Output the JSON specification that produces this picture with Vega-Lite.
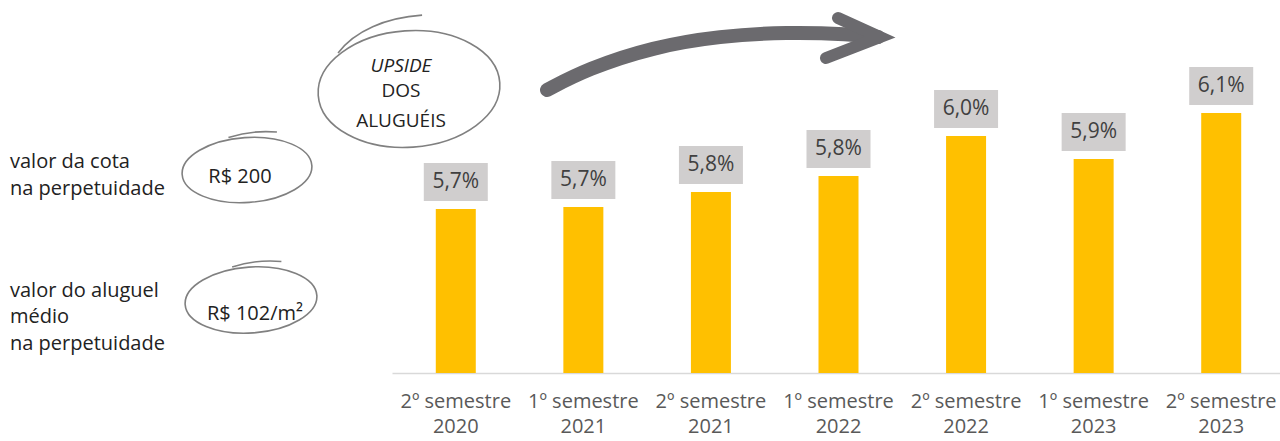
{
  "$schema": "https://vega.github.io/schema/vega-lite/v6.json",
  "width": 1280,
  "height": 373,
  "padding": {"left": 0, "top": 0, "right": 0, "bottom": 68},
  "autosize": {"type": "none"},
  "background": "white",
  "config": {"view": {"stroke": null}, "font": "Open Sans", "text": {"font": "Open Sans"}},
  "layer": [
    {
      "data": {"values": [
        {"periodo": "2º semestre 2020", "valor": 5.695, "rotulo": "5,7%"},
        {"periodo": "1º semestre 2021", "valor": 5.703, "rotulo": "5,7%"},
        {"periodo": "2º semestre 2021", "valor": 5.767, "rotulo": "5,8%"},
        {"periodo": "1º semestre 2022", "valor": 5.834, "rotulo": "5,8%"},
        {"periodo": "2º semestre 2022", "valor": 6.004, "rotulo": "6,0%"},
        {"periodo": "1º semestre 2023", "valor": 5.906, "rotulo": "5,9%"},
        {"periodo": "2º semestre 2023", "valor": 6.101, "rotulo": "6,1%"}
      ]},
      "encoding": {
        "x": {
          "field": "periodo", "type": "nominal", "sort": null,
          "scale": {"range": [392, 1285], "paddingInner": 0, "paddingOuter": 0},
          "axis": {
            "title": null, "ticks": false, "domainColor": "#d9d9d9", "domainWidth": 1.5,
            "labelExpr": "[slice(datum.label,0,11), slice(datum.label,12)]",
            "labelFontSize": 20, "labelColor": "#595959", "labelFont": "Open Sans",
            "labelPadding": 18, "labelLineHeight": 25, "labelAngle": 0
          }
        },
        "y": {"field": "valor", "type": "quantitative", "scale": {"domain": [5, 6.58], "zero": false, "nice": false}, "axis": null}
      },
      "layer": [
        {"mark": {"type": "bar", "color": "#ffc000", "size": 40}, "encoding": {"y2": {"datum": 5}}},
        {"mark": {"type": "point", "shape": "M-1,-0.594L1,-0.594L1,0.594L-1,0.594Z", "size": 4096, "filled": true, "color": "#d0cece", "opacity": 1, "yOffset": -27}},
        {"mark": {"type": "text", "fontSize": 21, "color": "#404040", "yOffset": -27, "baseline": "middle"}, "encoding": {"text": {"field": "rotulo"}}}
      ]
    },
    {
      "encoding": {
        "x": {"field": "x", "type": "quantitative", "scale": {"domain": [0, 1280], "nice": false, "zero": false}, "axis": null},
        "y": {"field": "y", "type": "quantitative", "scale": {"domain": [0, 373], "nice": false, "zero": false, "reverse": true}, "axis": null}
      },
      "layer": [
        {
          "data": {"values": [{"x": 247, "y": 170}]},
          "mark": {"type": "point", "shape": "M1,0C1,0.276 0.552,0.5 0,0.5C-0.552,0.5 -1,0.276 -1,0C-1,-0.276 -0.552,-0.5 0,-0.5C0.552,-0.5 1,-0.276 1,0M-0.25,-0.52C0,-0.58 0.25,-0.59 0.5,-0.55", "size": 16900, "filled": false, "stroke": "#808080", "strokeWidth": 1.6, "opacity": 1, "angle": -4}
        },
        {
          "data": {"values": [{"x": 251, "y": 300}]},
          "mark": {"type": "point", "shape": "M1,0C1,0.276 0.552,0.5 0,0.5C-0.552,0.5 -1,0.276 -1,0C-1,-0.276 -0.552,-0.5 0,-0.5C0.552,-0.5 1,-0.276 1,0M-0.25,-0.52C0,-0.58 0.25,-0.59 0.5,-0.55", "size": 17424, "filled": false, "stroke": "#808080", "strokeWidth": 1.6, "opacity": 1, "angle": -4}
        },
        {
          "data": {"values": [{"x": 409, "y": 89}]},
          "mark": {"type": "point", "shape": "M1,0C1,0.353 0.552,0.64 0,0.64C-0.552,0.64 -1,0.353 -1,0C-1,-0.353 -0.552,-0.64 0,-0.64C0.552,-0.64 1,-0.353 1,0M-0.75,-0.45C-0.55,-0.68 -0.2,-0.8 0.2,-0.8", "size": 33124, "filled": false, "stroke": "#808080", "strokeWidth": 1.6, "opacity": 1, "angle": -4}
        },
        {
          "data": {"values": [
            {"x": 547, "y": 90}, {"x": 587, "y": 69}, {"x": 653, "y": 47}, {"x": 720, "y": 36},
            {"x": 787, "y": 32}, {"x": 850, "y": 34}, {"x": 878, "y": 37}
          ]},
          "mark": {"type": "line", "interpolate": "basis", "color": "#6b6a6e", "strokeWidth": 14, "strokeCap": "round"}
        },
        {
          "data": {"values": [
            {"x": 838, "y": 18, "ordem": 1}, {"x": 880, "y": 37, "ordem": 2}, {"x": 826, "y": 58, "ordem": 3}
          ]},
          "mark": {"type": "line", "interpolate": "linear", "color": "#6b6a6e", "strokeWidth": 12, "strokeCap": "round", "strokeJoin": "miter"},
          "encoding": {"order": {"field": "ordem", "type": "quantitative"}}
        },
        {
          "data": {"values": [
            {"x": 10, "y": 168, "t": "valor da cota"},
            {"x": 10, "y": 195, "t": "na perpetuidade"},
            {"x": 10, "y": 297, "t": "valor do aluguel"},
            {"x": 10, "y": 323, "t": "médio"},
            {"x": 10, "y": 350, "t": "na perpetuidade"}
          ]},
          "mark": {"type": "text", "align": "left", "baseline": "alphabetic", "fontSize": 20, "color": "#222222"},
          "encoding": {"text": {"field": "t"}}
        },
        {
          "data": {"values": [
            {"x": 240, "y": 183, "t": "R$ 200"},
            {"x": 255, "y": 320, "t": "R$ 102/m²"}
          ]},
          "mark": {"type": "text", "align": "center", "baseline": "alphabetic", "fontSize": 20, "color": "#222222"},
          "encoding": {"text": {"field": "t"}}
        },
        {
          "data": {"values": [
            {"x": 401, "y": 97, "t": "DOS"},
            {"x": 401, "y": 127, "t": "ALUGUÉIS"}
          ]},
          "mark": {"type": "text", "align": "center", "baseline": "alphabetic", "fontSize": 19, "color": "#222222"},
          "encoding": {"text": {"field": "t"}}
        },
        {
          "data": {"values": [{"x": 401, "y": 72, "t": "UPSIDE"}]},
          "mark": {"type": "text", "align": "center", "baseline": "alphabetic", "fontSize": 19, "fontStyle": "italic", "color": "#222222"},
          "encoding": {"text": {"field": "t"}}
        }
      ]
    }
  ],
  "resolve": {"scale": {"x": "independent", "y": "independent"}}
}
